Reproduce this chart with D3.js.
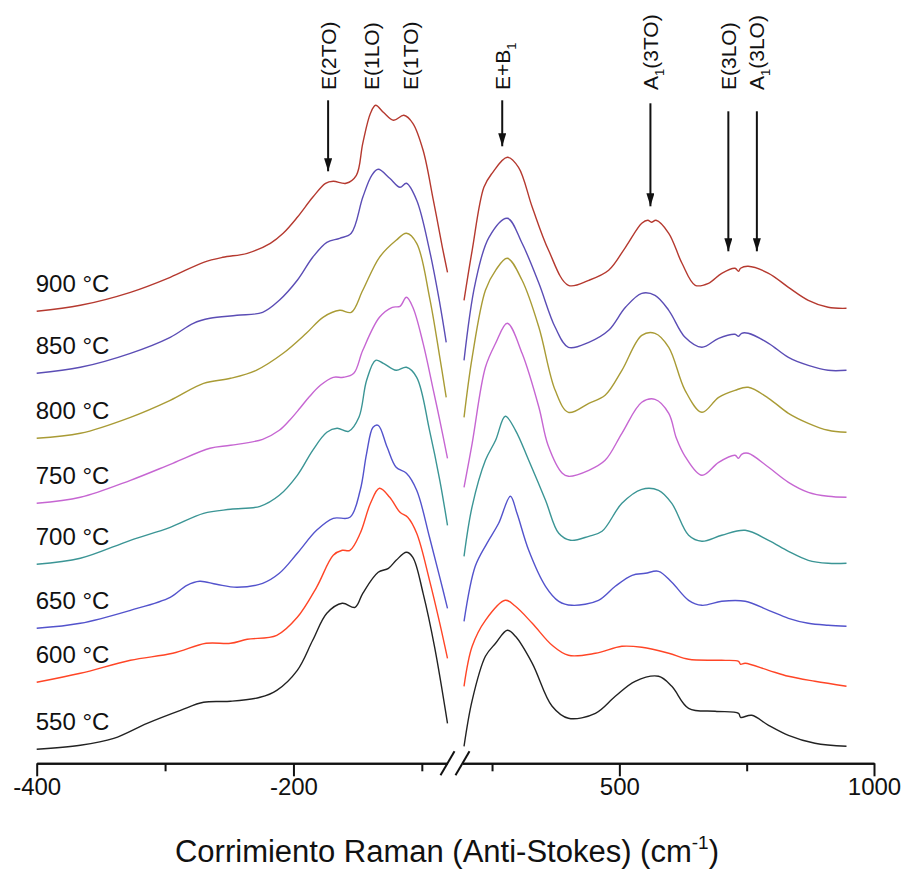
<!DOCTYPE html>
<html>
<head>
<meta charset="utf-8">
<script src="https://cdn.jsdelivr.net/npm/d3@7"></script>
<style>
  html, body { margin: 0; padding: 0; background: #ffffff; }
  svg { display: block; font-family: "Liberation Sans", Arial, sans-serif; }
</style>
</head>
<body>
<svg id="chart" width="904" height="869"></svg>
<script>
// Sample temperatures, top to bottom
const temperatures = ["900", "850", "800", "750", "700", "650", "600", "550"];
const lineColors = ["#b5392f", "#5b4db5", "#a99b35", "#c666d2", "#3b9595", "#5353cc", "#ff4526", "#222222"];

// Negative shift segment (cm-1, stacked intensity a.u.)
const neg900 = [[-400,452],[-366,458],[-327,471],[-296,486],[-270,501],[-255,506],[-236,510],[-218,520],[-208,530],[-197,546],[-185,566],[-175,580],[-169,582],[-159,580],[-151,588],[-146,620],[-140,650],[-136,658],[-130,651],[-122,643],[-114,648],[-107,640],[-99,613],[-91,563],[-84,516],[-80,491]];
const neg850 = [[-400,390],[-366,396],[-327,410],[-296,426],[-278,440],[-265,445],[-244,448],[-224,451],[-211,463],[-197,483],[-185,506],[-174,521],[-164,525],[-155,530],[-146,566],[-139,588],[-134,594],[-125,585],[-117,576],[-112,580],[-104,563],[-94,513],[-86,460],[-81,421]];
const neg800 = [[-400,325],[-366,330],[-327,346],[-296,363],[-270,380],[-249,385],[-229,393],[-208,410],[-190,430],[-177,446],[-164,453],[-155,451],[-146,473],[-133,506],[-120,523],[-112,530],[-104,520],[-94,466],[-86,406],[-81,366]];
const neg750 = [[-400,260],[-366,266],[-327,283],[-294,300],[-265,315],[-249,318],[-224,324],[-211,333],[-203,343],[-195,355],[-188,366],[-179,378],[-169,386],[-161,386],[-153,390],[-146,413],[-133,446],[-123,456],[-117,457],[-112,466],[-107,456],[-99,420],[-91,373],[-86,343],[-80,305]];
const neg700 = [[-400,199],[-366,205],[-327,223],[-296,236],[-270,250],[-249,254],[-226,257],[-211,268],[-197,288],[-185,313],[-174,331],[-166,335],[-157,332],[-149,346],[-143,383],[-136,403],[-130,400],[-120,393],[-112,396],[-104,386],[-94,333],[-86,283],[-80,238]];
const neg650 = [[-400,135],[-366,140],[-327,153],[-296,166],[-283,178],[-273,182],[-260,179],[-244,176],[-224,180],[-211,190],[-197,210],[-182,233],[-169,245],[-156,246],[-148,273],[-143,310],[-138,336],[-134,338],[-127,316],[-120,296],[-112,290],[-104,273],[-94,226],[-86,186],[-80,155]];
const neg600 = [[-400,81],[-366,90],[-327,103],[-294,110],[-268,120],[-249,120],[-236,124],[-213,128],[-197,146],[-182,176],[-169,208],[-162,213],[-156,213],[-148,230],[-140,260],[-133,275],[-125,266],[-117,251],[-111,246],[-104,230],[-94,183],[-86,140],[-80,105]];
const neg550 = [[-400,14],[-366,18],[-340,25],[-314,40],[-288,53],[-270,61],[-249,62],[-226,66],[-213,73],[-197,93],[-185,123],[-174,150],[-162,160],[-152,156],[-146,170],[-134,191],[-126,195],[-120,203],[-112,211],[-107,206],[-99,170],[-90,116],[-80,40]];

// Positive shift segment (cm-1, stacked intensity a.u.)
const pos900 = [[195,463],[211,513],[234,576],[250,590],[280,606],[302,596],[329,556],[361,513],[400,478],[440,483],[479,493],[512,516],[544,540],[556,543],[563,541],[572,543],[597,530],[623,500],[649,478],[675,480],[701,490],[727,495],[734,492],[738,495],[753,497],[793,490],[832,476],[871,463],[910,456],[946,455]];
const pos850 = [[195,403],[217,480],[244,526],[280,545],[309,520],[342,480],[374,436],[400,416],[440,421],[479,433],[512,456],[544,470],[570,468],[597,453],[629,426],[662,416],[695,425],[727,429],[734,427],[740,430],[753,430],[793,420],[832,406],[871,398],[910,393],[946,393]];
const pos800 = [[195,346],[211,406],[237,473],[257,493],[280,505],[309,483],[342,436],[374,373],[400,351],[440,360],[472,368],[505,393],[544,428],[570,430],[597,416],[629,373],[662,351],[695,366],[727,373],[753,376],[793,365],[832,350],[871,340],[910,333],[946,331]];
const pos750 = [[195,276],[211,320],[237,396],[257,420],[280,440],[309,410],[342,356],[360,318],[388,290],[400,287],[440,293],[472,303],[505,330],[544,361],[570,364],[597,350],[612,325],[629,307],[662,288],[695,301],[727,308],[734,305],[740,309],[753,310],[793,296],[832,281],[871,271],[910,267],[946,266]];
const pos700 = [[195,207],[211,257],[237,303],[257,323],[276,347],[296,333],[322,303],[355,263],[381,230],[404,223],[440,227],[466,232],[505,260],[544,274],[577,273],[603,260],[636,228],[662,222],[701,228],[747,233],[793,223],[832,212],[871,203],[910,200],[946,200]];
const pos650 = [[195,142],[217,197],[240,220],[263,240],[286,267],[299,250],[322,213],[355,177],[381,162],[407,158],[459,163],[492,177],[525,188],[551,190],[577,192],[603,181],[636,163],[662,158],[701,162],[747,162],[793,153],[832,145],[871,140],[910,138],[946,137]];
const pos600 = [[195,77],[211,117],[237,143],[276,163],[296,157],[329,140],[368,118],[400,108],[453,110],[505,117],[544,116],[597,110],[636,104],[701,103],[734,102],[738,99],[747,100],[793,93],[832,87],[884,82],[946,77]];
const pos550 = [[195,17],[211,63],[237,107],[257,120],[280,133],[296,127],[329,100],[368,57],[400,45],[453,50],[492,67],[531,82],[577,87],[603,77],[636,55],[688,52],[734,50],[738,46],[760,48],[793,38],[832,28],[884,20],[946,17]];

const negSeries = [neg900, neg850, neg800, neg750, neg700, neg650, neg600, neg550];
const posSeries = [pos900, pos850, pos800, pos750, pos700, pos650, pos600, pos550];

// Axis ticks
const negMajorTicks = [-400, -200];
const negMinorTicks = [-300, -100];
const posMajorTicks = [500, 1000];
const posMinorTicks = [250, 750];

// Phonon mode assignments: name, subscript, rest, shift, arrow top / tip intensity (null = no arrow)
const modeNames = ["E(2TO)", "E(1LO)", "E(1TO)", "E+B", "A", "E(3LO)", "A"];
const modeSubs = ["", "", "", "1", "1", "", "1"];
const modeTails = ["", "", "", "", "(3TO)", "", "(3LO)"];
const modeShifts = [-173, -139, -109, 270, 561, 714, 770];
const modeArrowTop = [663, null, null, 663, 660, 652, 652];
const modeArrowTip = [592, null, null, 617, 557, 512, 512];

const svg = d3.select("#chart");

const xNeg = d3.scaleLinear().domain([-400, -80]).range([36.7, 447.5]);
const xPos = d3.scaleLinear().domain([192, 1000]).range([462.5, 874]);
const y = d3.scaleLinear().domain([0, 700]).range([763.3, 63.3]);

const lineNeg = d3.line().x(d => xNeg(d[0])).y(d => y(d[1])).curve(d3.curveCatmullRom.alpha(0.5));
const linePos = d3.line().x(d => xPos(d[0])).y(d => y(d[1])).curve(d3.curveCatmullRom.alpha(0.5));

// Spectra
const traces = svg.append("g").attr("fill", "none").attr("stroke-width", 1.4).attr("stroke-linejoin", "round");
negSeries.forEach((s, i) => {
  traces.append("path").attr("d", lineNeg(s)).attr("stroke", lineColors[i]);
});
posSeries.forEach((s, i) => {
  traces.append("path").attr("d", linePos(s)).attr("stroke", lineColors[i]);
});

// Temperature labels above each trace start
const labels = svg.append("g").attr("font-size", 24).attr("fill", "#111");
negSeries.forEach((s, i) => {
  labels.append("text")
    .attr("x", xNeg(s[0][0]) - 1)
    .attr("y", y(s[0][1]) - 19)
    .text(temperatures[i] + " \u00B0C");
});

// Axes
function styleAxis(g) {
  g.selectAll("path.domain").attr("stroke", "#111").attr("stroke-width", 2);
  g.selectAll(".tick line").attr("stroke", "#111").attr("stroke-width", 2);
  g.selectAll(".tick text").attr("font-size", 24).attr("fill", "#111").attr("font-family", "Liberation Sans, Arial, sans-serif");
}
const axisY = y(0);
const gNegMaj = svg.append("g").attr("transform", `translate(0,${axisY})`)
  .call(d3.axisBottom(xNeg).tickValues(negMajorTicks).tickSize(13).tickSizeOuter(0).tickPadding(2).tickFormat(d => "-" + Math.abs(d)));
const gNegMin = svg.append("g").attr("transform", `translate(0,${axisY})`)
  .call(d3.axisBottom(xNeg).tickValues(negMinorTicks).tickSize(8).tickSizeOuter(0).tickFormat(""));
const gPosMaj = svg.append("g").attr("transform", `translate(0,${axisY})`)
  .call(d3.axisBottom(xPos).tickValues(posMajorTicks).tickSize(13).tickSizeOuter(0).tickPadding(2).tickFormat(d3.format("d")));
const gPosMin = svg.append("g").attr("transform", `translate(0,${axisY})`)
  .call(d3.axisBottom(xPos).tickValues(posMinorTicks).tickSize(8).tickSizeOuter(0).tickFormat(""));
[gNegMaj, gNegMin, gPosMaj, gPosMin].forEach(styleAxis);

// Axis break marks
const breakG = svg.append("g").attr("stroke", "#111").attr("stroke-width", 2);
[xNeg.range()[1], xPos.range()[0]].forEach(bx => {
  breakG.append("line")
    .attr("x1", bx - 7).attr("y1", axisY + 12)
    .attr("x2", bx + 7).attr("y2", axisY - 12);
});

// X axis title
const title = svg.append("text")
  .attr("x", 447).attr("y", 862)
  .attr("text-anchor", "middle")
  .attr("font-size", 31)
  .attr("fill", "#111");
title.append("tspan").text("Corrimiento Raman (Anti-Stokes) (cm");
title.append("tspan").attr("font-size", 19).attr("dy", -13).text("-1");
title.append("tspan").attr("dy", 13).text(")");

// Mode annotations
const defs = svg.append("defs");
defs.append("marker")
  .attr("id", "arrowHead")
  .attr("viewBox", "0 0 10 10")
  .attr("refX", 10).attr("refY", 5)
  .attr("markerWidth", 13).attr("markerHeight", 8)
  .attr("markerUnits", "userSpaceOnUse")
  .attr("orient", "auto")
  .attr("preserveAspectRatio", "none")
  .append("path").attr("d", "M0,0 L10,5 L0,10 Z").attr("fill", "#111");

const modeX = s => s < 0 ? xNeg(s) : xPos(s);
const ann = svg.append("g");
modeShifts.forEach((s, i) => {
  const px = modeX(s);
  const t = ann.append("text")
    .attr("transform", `translate(${px},90) rotate(-90)`)
    .attr("dy", "0.36em")
    .attr("font-size", 21)
    .attr("fill", "#111");
  t.append("tspan").text(modeNames[i]);
  if (modeSubs[i]) {
    t.append("tspan").attr("font-size", 13).attr("dy", 6).text(modeSubs[i]);
    if (modeTails[i]) t.append("tspan").attr("dy", -6).text(modeTails[i]);
  }
  if (modeArrowTop[i] !== null) {
    ann.append("line")
      .attr("x1", px).attr("y1", y(modeArrowTop[i]))
      .attr("x2", px).attr("y2", y(modeArrowTip[i]))
      .attr("stroke", "#111").attr("stroke-width", 2)
      .attr("marker-end", "url(#arrowHead)");
  }
});
</script>
</body>
</html>
